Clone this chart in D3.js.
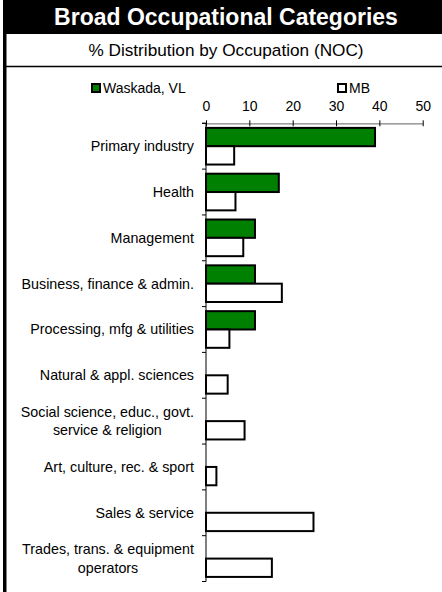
<!DOCTYPE html>
<html><head><meta charset="utf-8">
<script src="https://cdn.jsdelivr.net/npm/d3@7"></script>
<style>body{margin:0;background:#fff}svg{display:block;font-family:"Liberation Sans",Arial,sans-serif}</style>
</head><body>
<script>
const categories = ["Primary industry","Health","Management","Business, finance & admin.","Processing, mfg & utilities","Natural & appl. sciences","Social science, educ., govt. service & religion","Art, culture, rec. & sport","Sales & service","Trades, trans. & equipment operators"];
const categoryLines = [["Primary industry"],["Health"],["Management"],["Business, finance & admin."],["Processing, mfg & utilities"],["Natural & appl. sciences"],["Social science, educ., govt.","service & religion"],["Art, culture, rec. & sport"],["Sales & service"],["Trades, trans. & equipment","operators"]];
const seriesNames = ["Waskada, VL","MB"];
const waskada = [39.0,16.8,11.3,11.3,11.3,0,0,0,0,0];
const mb = [6.5,6.8,8.6,17.5,5.4,5.0,8.9,2.4,24.8,15.2];
const xTicks = [0,10,20,30,40,50];
const title = "Broad Occupational Categories";
const subtitle = "% Distribution by Occupation (NOC)";

const W=442,H=592;
const svg=d3.select("body").append("svg").attr("width",W).attr("height",H);
// frame
svg.append("rect").attr("x",3).attr("y",0).attr("width",W-3).attr("height",34).attr("fill","#000");
svg.append("rect").attr("x",3).attr("y",0).attr("width",3.5).attr("height",H).attr("fill","#000");
svg.append("line").attr("x1",3).attr("x2",W).attr("y1",66.5).attr("y2",66.5).attr("stroke","#000").attr("stroke-width",1.5);
svg.append("text").attr("x",226).attr("y",25).attr("text-anchor","middle").attr("fill","#fff")
  .attr("font-size",23).attr("font-weight","bold").text(title);
svg.append("text").attr("x",226).attr("y",56).attr("text-anchor","middle").attr("fill","#000")
  .attr("font-size",17.2).text(subtitle);

const x=d3.scaleLinear().domain([0,50]).range([206,422.7]);
const y=d3.scaleBand().domain(categories).range([123.3,581.5]).paddingInner(0.2).paddingOuter(0.1);
const ys=d3.scaleBand().domain(seriesNames).range([0,y.bandwidth()]);
const colors={"Waskada, VL":"#008000","MB":"#fff"};

// top axis
const ax=svg.append("g").attr("transform","translate(0,123.3)")
  .call(d3.axisTop(x).tickValues(xTicks).tickSize(3).tickSizeOuter(0).tickPadding(9));
ax.select(".domain").attr("stroke","#808080").attr("stroke-width",1.2);
ax.selectAll(".tick line").attr("stroke","#000").attr("y2",3).attr("y1",-3);
ax.selectAll(".tick text").attr("font-size",14).attr("font-family","Liberation Sans, Arial, sans-serif").attr("fill","#000");
ax.insert("line",":first-child").attr("x1",202).attr("x2",206).attr("stroke","#000");

// left axis
const step=y.step();
const y0=y.range()[0];
svg.append("line").attr("x1",206).attr("x2",206).attr("y1",y0).attr("y2",y.range()[1]).attr("stroke","#000").attr("stroke-width",1);
svg.append("g").selectAll("line").data(d3.range(categories.length+1)).join("line")
  .attr("x1",202).attr("x2",206).attr("y1",i=>y0+i*step).attr("y2",i=>y0+i*step).attr("stroke","#000");

// labels
const lab=svg.append("g").selectAll("text").data(categories).join("text")
  .attr("font-size",14.3).attr("fill","#000")
  .attr("transform",(d)=>`translate(194,${y(d)+y.bandwidth()/2})`);
lab.each(function(d,i){
  const lines=categoryLines[i]; const t=d3.select(this); const lh=18.5;
  const first=t.append("tspan").attr("x",0).attr("text-anchor","end")
    .attr("y",(0-(lines.length-1)/2)*lh+5).text(lines[0]);
  if(lines.length>1){
    const w=first.node().getComputedTextLength();
    t.append("tspan").attr("x",-w/2).attr("text-anchor","middle")
      .attr("y",(1-(lines.length-1)/2)*lh+5).text(lines[1]);
  }
});

// bars
const rows=categories.map((c,i)=>({c,vals:[{s:seriesNames[0],v:waskada[i]},{s:seriesNames[1],v:mb[i]}]}));
const g=svg.append("g");
rows.forEach(r=>{
  r.vals.filter(d=>d.v>0).forEach(d=>{
    g.append("rect").attr("x",x(0)).attr("y",y(r.c)+ys(d.s)).attr("width",x(d.v)-x(0)).attr("height",ys.bandwidth())
     .attr("fill",colors[d.s]).attr("stroke","#000").attr("stroke-width",2);
  });
});

// legend
const leg=[{s:seriesNames[0],x:90},{s:seriesNames[1],x:336}];
leg.forEach(l=>{
  svg.append("rect").attr("x",l.x+2).attr("y",84).attr("width",8).attr("height",8).attr("fill",colors[l.s]).attr("stroke","#000").attr("stroke-width",2);
  svg.append("text").attr("x",l.x+13).attr("y",93).attr("font-size",14).attr("fill","#000").text(l.s);
});
</script>
</body></html>
